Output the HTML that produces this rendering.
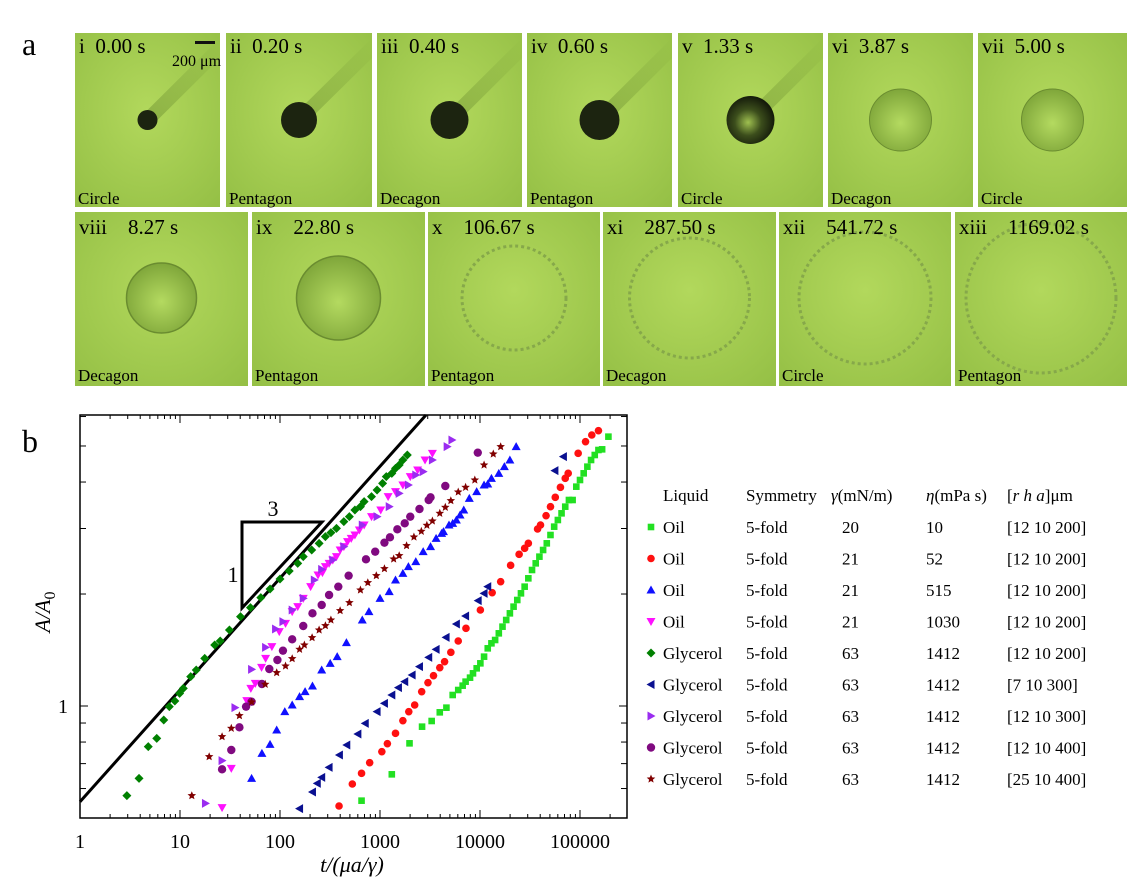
<!DOCTYPE html>
<html><head><meta charset="utf-8"><style>
html,body{margin:0;padding:0;background:#fff;}
svg{display:block;font-family:"Liberation Serif",serif;}
</style></head><body>
<svg id="s" width="1127" height="887" viewBox="0 0 1127 887" xmlns="http://www.w3.org/2000/svg">
<defs>
<radialGradient id="bg" cx="50%" cy="45%" r="75%">
<stop offset="0" stop-color="#b2d85c"/><stop offset="1" stop-color="#94bf45"/></radialGradient>
<radialGradient id="drop" cx="50%" cy="55%" r="55%">
<stop offset="0" stop-color="#b4da60"/><stop offset="1" stop-color="#7fa63a"/></radialGradient>
<radialGradient id="dv" cx="45%" cy="55%" r="55%">
<stop offset="0" stop-color="#9fc050"/><stop offset="0.5" stop-color="#3c4e1c"/><stop offset="1" stop-color="#141a0a"/></radialGradient>
<linearGradient id="streak" x1="0" y1="1" x2="1" y2="0">
<stop offset="0" stop-color="#6c8f30" stop-opacity="0.55"/><stop offset="1" stop-color="#6c8f30" stop-opacity="0"/></linearGradient>
</defs>
<text x="22" y="55" font-size="32">a</text>
<text x="22" y="452" font-size="32">b</text>
<g id="tiles"></g>
<g id="plot"></g>
<g id="legend" font-size="17"></g>
</svg>
<script>
const NS="http://www.w3.org/2000/svg";
function el(p,t,a,txt){const e=document.createElementNS(NS,t);for(const k in a)e.setAttribute(k,a[k]);if(txt!==undefined)e.textContent=txt;p.appendChild(e);return e;}
const T=document.getElementById('tiles');
const row1=[[75,220,'i','0.00 s','Circle'],[226,372,'ii','0.20 s','Pentagon'],[377,522,'iii','0.40 s','Decagon'],[527,672,'iv','0.60 s','Pentagon'],[678,823,'v','1.33 s','Circle'],[828,973,'vi','3.87 s','Decagon'],[978,1127,'vii','5.00 s','Circle']];
const row2=[[75,248,'viii','8.27 s','Decagon'],[252,425,'ix','22.80 s','Pentagon'],[428,600,'x','106.67 s','Pentagon'],[603,776,'xi','287.50 s','Decagon'],[779,951,'xii','541.72 s','Circle'],[955,1127,'xiii','1169.02 s','Pentagon']];
const r1d=[10,18,19,20,24,31,31];
row1.forEach((t,i)=>{const [x0,x1,n,tm,lab]=t;const y0=33,y1=207;
 el(T,'rect',{x:x0,y:y0,width:x1-x0,height:y1-y0,fill:'url(#bg)'});
 const cx=(x0+x1)/2,cy=120;
 if(i<5) el(T,'polygon',{points:`${cx-4},${cy-6} ${cx+6},${cy+4} ${x1},${y0+25} ${x1},${y0+5}`,fill:'url(#streak)'});
 if(i<4) el(T,'circle',{cx:cx,cy:cy,r:r1d[i],fill:'#1c2410'});
 else if(i==4) el(T,'circle',{cx:cx,cy:cy,r:24,fill:'url(#dv)'});
 else el(T,'circle',{cx:cx,cy:cy,r:31,fill:'url(#drop)',stroke:'#6a8c30','stroke-width':1});
 el(T,'text',{x:x0+4,y:y0+20,'font-size':21},n+'\u2002'+tm);
 el(T,'text',{x:x0+3,y:y1-3,'font-size':17},lab);
});
el(T,'rect',{x:195,y:41,width:20,height:3,fill:'#111'});
el(T,'text',{x:172,y:66,'font-size':16},'200 μm');
const r2d=[35,42,52,60,66,75];
row2.forEach((t,i)=>{const [x0,x1,n,tm,lab]=t;const y0=212,y1=386;
 el(T,'rect',{x:x0,y:y0,width:x1-x0,height:y1-y0,fill:'url(#bg)'});
 const cx=(x0+x1)/2,cy=298;
 if(i<2) el(T,'circle',{cx:cx,cy:cy,r:r2d[i],fill:'url(#drop)',stroke:'#6a8c30','stroke-width':1.5});
 else el(T,'circle',{cx:cx,cy:cy,r:r2d[i],fill:'none',stroke:'#86a84a','stroke-width':3,'stroke-dasharray':'3 3'});
 el(T,'text',{x:x0+4,y:y0+22,'font-size':21},n+'\u2003'+tm);
 el(T,'text',{x:x0+3,y:y1-5,'font-size':17},lab);
});
const P=document.getElementById('plot');
const L=80,R=627,TOP=415,B=818;
const X=t=>L+100*Math.log10(t), Y=a=>706-372*Math.log10(a);
el(P,'rect',{x:L,y:TOP,width:R-L,height:B-TOP,fill:'none',stroke:'#000','stroke-width':1.5});
for(let d=0;d<=5;d++){for(let m=1;m<10;m++){const t=m*Math.pow(10,d);const x=X(t);if(x>R)break;const len=m==1?8:4;
 el(P,'line',{x1:x,y1:B,x2:x,y2:B-len,stroke:'#000'});el(P,'line',{x1:x,y1:TOP,x2:x,y2:TOP+len,stroke:'#000'});}
 el(P,'text',{x:X(Math.pow(10,d)),y:848,'font-size':20,'text-anchor':'middle'},String(Math.pow(10,d)));}
[0.5,0.6,0.7,0.8,0.9,1,2,3,4,5,6].forEach(a=>{const y=Y(a);const len=(a==1)?8:6;
 el(P,'line',{x1:L,y1:y,x2:L+len,y2:y,stroke:'#000'});el(P,'line',{x1:R,y1:y,x2:R-len,y2:y,stroke:'#000'});});
el(P,'text',{x:68,y:713,'font-size':20,'text-anchor':'end'},'1');
const yl=el(P,'text',{x:0,y:0,'font-size':22,'font-style':'italic',transform:'translate(50,612) rotate(-90)','text-anchor':'middle'});
yl.innerHTML='A/A<tspan font-style="normal" font-size="16" dy="5">0</tspan>';
el(P,'text',{x:352,y:872,'font-size':22,'text-anchor':'middle','font-style':'italic'},'t/(μa/γ)');
el(P,'line',{x1:L,y1:801.7,x2:426,y2:415,stroke:'#000','stroke-width':3});
el(P,'path',{d:'M242,608 L242,522 L322,522 Z',fill:'none',stroke:'#000','stroke-width':3});
el(P,'text',{x:273,y:516,'font-size':22,'text-anchor':'middle'},'3');
el(P,'text',{x:233,y:582,'font-size':22,'text-anchor':'middle'},'1');
const zx=v=>80+(v-55)*100/271, zy=v=>410+v/3;
function marker(g,type,x,y,c){
 switch(type){
 case 'sq':el(g,'rect',{x:x-3.3,y:y-3.3,width:6.6,height:6.6,fill:c});break;
 case 'ci':el(g,'circle',{cx:x,cy:y,r:3.8,fill:c});break;
 case 'hex':el(g,'circle',{cx:x,cy:y,r:4.2,fill:c});break;
 case 'up':el(g,'polygon',{points:`${x},${y-4.5} ${x+4.5},${y+3.5} ${x-4.5},${y+3.5}`,fill:c});break;
 case 'dn':el(g,'polygon',{points:`${x},${y+4.5} ${x+4.5},${y-3.5} ${x-4.5},${y-3.5}`,fill:c});break;
 case 'lt':el(g,'polygon',{points:`${x-4.5},${y} ${x+3.5},${y-4.5} ${x+3.5},${y+4.5}`,fill:c});break;
 case 'rt':el(g,'polygon',{points:`${x+4.5},${y} ${x-3.5},${y-4.5} ${x-3.5},${y+4.5}`,fill:c});break;
 case 'di':el(g,'polygon',{points:`${x},${y-4.5} ${x+4.5},${y} ${x},${y+4.5} ${x-4.5},${y}`,fill:c});break;
 case 'st':{let p=[];for(let k=0;k<10;k++){const r=k%2?2:4.5;const a=-Math.PI/2+k*Math.PI/5;p.push((x+r*Math.cos(a)).toFixed(1)+','+(y+r*Math.sin(a)).toFixed(1));}el(g,'polygon',{points:p.join(' '),fill:c});}
 }}
const S=[
['sq','#22e022',[[818,1172],[900,1093],[948,1000],[982,950],[1008,933],[1030,907],[1048,893],[1065,855],[1080,840],[1092,827],[1100,815],[1112,803],[1120,790],[1130,775],[1140,760],[1150,740],[1160,715],[1170,700],[1180,690],[1190,670],[1200,650],[1210,630],[1220,610],[1230,590],[1240,570],[1250,550],[1260,530],[1270,505],[1280,480],[1290,460],[1300,440],[1310,420],[1320,400],[1330,375],[1340,350],[1350,330],[1360,310],[1370,290],[1380,270],[1390,270],[1400,230],[1410,210],[1420,190],[1430,170],[1440,150],[1450,135],[1460,120],[1470,118],[1487,80]]],
['ci','#ff1010',[[757,1188],[793,1122],[818,1090],[840,1058],[873,1025],[888,1001],[910,970],[930,932],[946,905],[962,885],[981,845],[998,818],[1013,797],[1030,773],[1043,755],[1060,727],[1080,693],[1101,655],[1140,600],[1172,548],[1195,515],[1222,466],[1245,433],[1260,415],[1270,400],[1295,357],[1303,345],[1318,317],[1330,290],[1343,262],[1357,232],[1370,205],[1378,190],[1405,130],[1425,95],[1442,75],[1460,62]]],
['lt','#0a1090',[[628,1225],[650,1196],[685,1146],[698,1120],[710,1102],[730,1072],[758,1035],[778,1005],[808,972],[828,940],[860,905],[880,880],[900,855],[918,833],[935,815],[955,795],[975,770],[1000,742],[1020,718],[1047,682],[1075,642],[1100,618],[1134,572],[1150,550],[1160,530],[1342,182],[1365,140]]],
['up','#1010ff',[[520,1105],[548,1030],[570,1003],[588,960],[610,905],[630,885],[650,860],[665,845],[685,828],[710,780],[733,760],[752,740],[777,698],[820,630],[838,605],[868,565],[893,545],[910,510],[930,490],[945,470],[965,455],[985,425],[1005,410],[1020,385],[1035,370],[1040,365],[1055,345],[1065,340],[1075,330],[1085,315],[1095,300],[1110,265],[1130,245],[1150,225],[1160,222],[1170,205],[1190,190],[1205,170],[1220,150],[1237,110]]],
['dn','#ff10ff',[[440,1193],[465,1075],[507,872],[518,835],[530,820],[547,772],[558,745],[575,710],[595,665],[612,640],[630,605],[645,590],[660,565],[680,530],[700,495],[712,488],[720,470],[730,460],[740,450],[750,440],[760,420],[770,410],[780,395],[790,385],[800,375],[812,360],[825,345],[845,320],[870,300],[890,260],[910,245],[930,225],[950,200],[970,180],[990,150],[1010,130]]],
['rt','#9a2cf0',[[395,1180],[440,1052],[475,893],[520,778],[558,712],[585,657],[605,635],[630,600],[660,565],[690,510],[710,478],[740,450],[770,410],[820,345],[860,320],[893,290],[920,250],[945,225],[965,195],[985,185],[1010,150],[1050,110],[1063,90]]],
['hex','#800a80',[[440,1078],[465,1020],[487,952],[505,890],[520,875],[548,822],[568,777],[590,750],[605,722],[630,688],[660,648],[685,610],[710,585],[730,555],[755,530],[783,497],[830,448],[855,425],[880,398],[895,382],[915,358],[935,340],[950,320],[975,297],[1000,270],[1005,262],[1045,228],[1133,128]]],
['st','#800000',[[358,1157],[405,1040],[440,980],[465,955],[487,917],[520,876],[557,823],[588,788],[612,768],[630,746],[650,718],[663,705],[684,683],[703,660],[720,647],[735,630],[760,602],[785,578],[815,540],[835,518],[858,497],[880,476],[905,447],[920,437],[940,407],[960,381],[980,364],[995,346],[1010,333],[1030,310],[1045,292],[1060,272],[1080,246],[1100,232],[1125,210],[1150,165],[1175,132],[1195,110]]],
['di','#008000',[[182,1157],[215,1105],[240,1010],[263,985],[282,930],[297,890],[312,873],[325,850],[335,835],[355,800],[370,780],[393,745],[420,705],[435,693],[460,660],[490,620],[517,593],[545,563],[570,537],[597,507],[622,483],[645,460],[660,440],[683,420],[703,400],[720,380],[735,368],[750,355],[770,335],[785,320],[800,300],[815,290],[825,275],[845,260],[860,240],[875,220],[885,200],[900,190],[910,175],[920,165],[930,150],[942,135]]]
];
S.forEach(([t,c,pts])=>pts.forEach(([a,b])=>{const x=zx(a),y=zy(b);if(y<=B)marker(P,t,x,y,c);}));
const G=document.getElementById('legend');
el(G,'text',{x:663,y:501},'Liquid');el(G,'text',{x:746,y:501},'Symmetry');
el(G,'text',{x:831,y:501}).innerHTML='<tspan font-style="italic">γ</tspan>(mN/m)';
el(G,'text',{x:926,y:501}).innerHTML='<tspan font-style="italic">η</tspan>(mPa s)';
el(G,'text',{x:1007,y:501}).innerHTML='[<tspan font-style="italic">r h a</tspan>]μm';
const rows=[['sq','#22e022','Oil','20','10','[12 10 200]'],['ci','#ff1010','Oil','21','52','[12 10 200]'],['up','#1010ff','Oil','21','515','[12 10 200]'],['dn','#ff10ff','Oil','21','1030','[12 10 200]'],['di','#008000','Glycerol','63','1412','[12 10 200]'],['lt','#0a1090','Glycerol','63','1412','[7    10 300]'],['rt','#9a2cf0','Glycerol','63','1412','[12 10 300]'],['hex','#800a80','Glycerol','63','1412','[12 10 400]'],['st','#800000','Glycerol','63','1412','[25 10 400]']];
rows.forEach((r,i)=>{const y=533+i*31.5;marker(G,r[0],651,y-6,r[1]);
 el(G,'text',{x:663,y:y},r[2]);el(G,'text',{x:746,y:y},'5-fold');el(G,'text',{x:842,y:y},r[3]);el(G,'text',{x:926,y:y},r[4]);
 const t=el(G,'text',{x:1007,y:y},r[5]);t.setAttribute('xml:space','preserve');});
</script>
</body></html>
